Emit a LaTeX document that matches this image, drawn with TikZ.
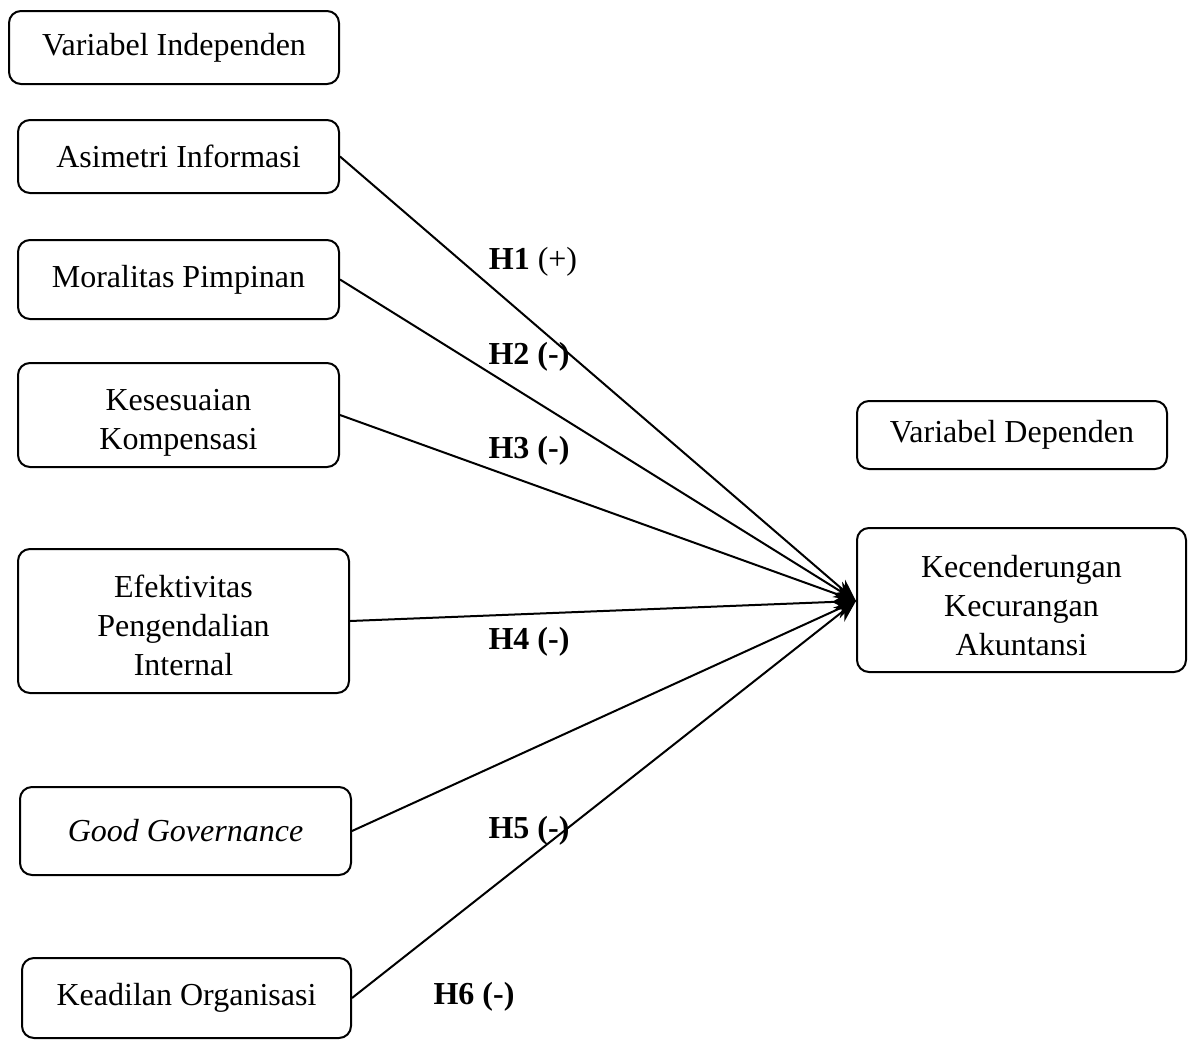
\documentclass[tikz,border=0pt]{standalone}
\usepackage{fontspec}
\setmainfont{Liberation Serif}
\usetikzlibrary{arrows.meta}
\tikzset{
  vbox/.style={draw, line width=1pt, rounded corners=6pt, align=center, inner sep=0pt,
    font=\fontsize{16}{19.5}\selectfont},
  vtxt/.style={align=center, inner sep=0pt, font=\fontsize{16}{19.5}\selectfont},
  hlab/.style={font=\fontsize{16}{19.5}\selectfont\bfseries},
  conn/.style={line width=1pt, -{Stealth[length=11pt,width=9pt]}}
}
\begin{document}
\begin{tikzpicture}[x=0.5pt,y=-0.5pt]
\useasboundingbox (0,0) rectangle (1195,1040);
\node[vbox, minimum width=165pt, minimum height=36.5pt] (vi) at (174,47.5) {Variabel Independen};
\node[vbox, minimum width=160.5pt, minimum height=36.5pt] (ai) at (178.5,156.5) {Asimetri Informasi};
\node[vbox, minimum width=160.5pt, minimum height=39.5pt] (mp) at (178.5,279.5) {Moralitas Pimpinan};
\node[vbox, minimum width=160.5pt, minimum height=52pt] (kk) at (178.5,415) {};
\node[vtxt] (kkt) at ([yshift=-4pt]kk.center) {Kesesuaian\\Kompensasi};
\node[vbox, minimum width=165.5pt, minimum height=72pt] (ep) at (183.5,621) {};
\node[vtxt] (ept) at ([yshift=-2pt]ep.center) {Efektivitas\\Pengendalian\\Internal};
\node[vbox, minimum width=165.5pt, minimum height=44pt] (gg) at (185.5,831) {\itshape Good Governance};
\node[vbox, minimum width=164.5pt, minimum height=40pt] (ko) at (186.5,998) {Keadilan Organisasi};
\node[vbox, minimum width=155pt, minimum height=34pt] (vd) at (1012,435) {Variabel Dependen};
\node[vbox, minimum width=164.5pt, minimum height=72pt] (kka) at (1021.5,600) {};
\node[vtxt] (kkat) at ([yshift=-3pt]kka.center) {Kecenderungan\\Kecurangan\\Akuntansi};
\coordinate (tip) at (856,601);
\draw[conn] (ai.east) -- (tip);
\draw[conn] (mp.east) -- (tip);
\draw[conn] (kk.east) -- (tip);
\draw[conn] (ep.east) -- (tip);
\draw[conn] (gg.east) -- (tip);
\draw[conn] (ko.east) -- (tip);
\node[hlab] (h1) at (533,262) {H1 \mdseries(+)};
\node[hlab] (h2) at (529,357) {H2 (-)};
\node[hlab] (h3) at (529,451) {H3 (-)};
\node[hlab] (h4) at (529,642) {H4 (-)};
\node[hlab] (h5) at (529,831) {H5 (-)};
\node[hlab] (h6) at (474,997) {H6 (-)};
\end{tikzpicture}
\end{document}
